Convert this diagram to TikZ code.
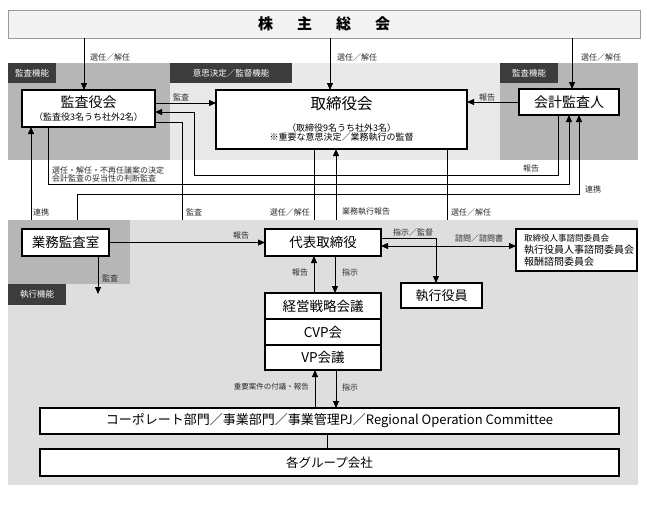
\documentclass[tikz,border=0pt]{standalone}
\usepackage{fontspec}
\setmainfont{Noto Sans CJK JP}
\usetikzlibrary{arrows.meta,calc}
\newcommand\fsz[1]{\fontsize{#1}{#1}\selectfont}
\definecolor{tagc}{HTML}{3C3C3C}
\definecolor{labc}{HTML}{2A2A2A}
\definecolor{lightband}{HTML}{E9E9E9}
\definecolor{darkband}{HTML}{B6B6B6}
\definecolor{lowband}{HTML}{DEDEDE}
\definecolor{shfill}{HTML}{F3F3F3}
\definecolor{shgray}{HTML}{9A9A9A}
\begin{document}
\begin{tikzpicture}[x=1pt,y=-1pt,
  box/.style={draw=black,line width=1.3pt,fill=white,inner sep=0pt,outer sep=0pt},
  region/.style={inner sep=0pt,outer sep=0pt,anchor=north west},
  tag/.style={fill=tagc,text=white,inner sep=0pt,outer sep=0pt,anchor=north west,font=\fsz{8.5}},
  lab/.style={font=\fsz{8},text=labc,inner sep=0pt},
  conn/.style={line width=0.8pt,draw=black},
  arr/.style={conn,-{Triangle[length=7pt,width=6pt]}},
  darr/.style={conn,{Triangle[length=7pt,width=6pt]}-{Triangle[length=7pt,width=6pt]}},
  txt/.style={inner sep=0pt,text=black},
]
\useasboundingbox (0,0) rectangle (647,504);
\fill[white] (0,0) rectangle (647,504);

% regions
\node[region,fill=lightband,minimum width=630pt,minimum height=97pt] (topband) at (8,63) {};
\node[region,fill=darkband,minimum width=162pt,minimum height=97pt] (leftaudit) at (8,63) {};
\node[region,fill=darkband,minimum width=138pt,minimum height=97pt] (rightaudit) at (500,63) {};
\node[region,fill=lowband,minimum width=630pt,minimum height=265pt] (exec) at (8,220) {};
\node[region,fill=darkband,minimum width=122pt,minimum height=64pt] (auditroom) at (8,220) {};
\node[tag,minimum width=48pt,minimum height=20pt] (t1) at (8,63) {監査機能};
\node[tag,minimum width=122pt,minimum height=20pt] (t2) at (170,63) {意思決定／監督機能};
\node[tag,minimum width=58pt,minimum height=20pt] (t3) at (500,63) {監査機能};
\node[tag,minimum width=58pt,minimum height=21pt] (t4) at (8,284) {執行機能};

% boxes
\node[box,draw=shgray,line width=1pt,fill=shfill,minimum width=632pt,minimum height=28pt] (sh) at (324,24)
  {\fsz{15}\bfseries 株\hspace{24pt}主\hspace{24pt}総\hspace{24pt}会};
\node[box,minimum width=133pt,minimum height=37pt] (kansa) at (88.5,108.5) {};
\node[txt,font=\fsz{14}] (kansaT) at (88.5,102) {監査役会};
\node[txt,font=\fsz{9}] (kansaS) at (88.5,117) {（監査役3名うち社外2名）};
\node[box,minimum width=251pt,minimum height=59pt] (tori) at (341.5,119.5) {};
\node[txt,font=\fsz{15.5}] (toriT) at (341.5,104) {取締役会};
\node[txt,font=\fsz{9},align=center] (toriS) at (341.5,132.5)
  {\fsz{9}\baselineskip=11.5pt （取締役9名うち社外3名）\\ ※重要な意思決定／業務執行の監督};
\node[box,minimum width=100pt,minimum height=26pt,font=\fsz{14}] (kaikei) at (569,102) {会計監査人};
\node[box,minimum width=87pt,minimum height=27pt,font=\fsz{13.5}] (gyomu) at (65.5,242.5) {業務監査室};
\node[box,minimum width=116pt,minimum height=27pt,font=\fsz{13.5}] (daihyo) at (323,242.5) {代表取締役};
\node[box,minimum width=116pt,minimum height=26pt,font=\fsz{13.5}] (keiei) at (323,306) {経営戦略会議};
\node[box,minimum width=116pt,minimum height=26pt,font=\fsz{13.5}] (cvp) at (323,332) {CVP会};
\node[box,minimum width=116pt,minimum height=25pt,font=\fsz{13.5}] (vp) at (323,357.5) {VP会議};
\node[box,minimum width=81pt,minimum height=25pt,font=\fsz{13}] (shikko) at (441.5,295.5) {執行役員};
\node[box,minimum width=121pt,minimum height=42pt] (shimon) at (576.5,250) {};
\node[txt,anchor=west,align=left] (shimonT) at (524,250)
  {\fsz{8.5}\baselineskip=11.5pt 取締役人事諮問委員会\\ 執行役員人事諮問委員会\\ 報酬諮問委員会};
\node[box,minimum width=579pt,minimum height=26pt,font=\fsz{13}] (corp) at (329.5,421)
  {コーポレート部門／事業部門／事業管理PJ／Regional Operation Committee};
\node[box,minimum width=579pt,minimum height=27pt,font=\fsz{12.5}] (group) at (329.5,462.5) {各グループ会社};

% connectors from shareholders
\draw[arr] (sh.south -| 84,0) -- (kansa.north -| 84,0);
\draw[arr] (sh.south -| 330,0) -- (tori.north -| 330,0);
\draw[arr] (sh.south -| 572,0) -- (kaikei.north -| 572,0);
\node[lab,anchor=west] (l1) at (90,57) {選任／解任};
\node[lab,anchor=west] (l2) at (337,57) {選任／解任};
\node[lab,anchor=west] (l3) at (581,57) {選任／解任};

% top connections
\draw[arr] (kansa.east |- 0,103) -- (tori.west |- 0,103);
\node[lab,anchor=west] (l4) at (173,97) {監査};
\draw[arr] (kaikei.west) -- (tori.east |- kaikei.west);
\node[lab,anchor=west] (l5) at (479,97) {報告};
\draw[arr] (kaikei.south -| 558,0) |- (194,175) |- (kansa.east |- 0,112);
\node[lab,anchor=west] (l6) at (523,168) {報告};
\draw[conn] (kansa.east |- 0,122) -| (exec.north -| 182,0);
\node[lab,anchor=west] (l7) at (186,212) {監査};
\draw[arr] (kansa.south -| 48,0) |- (569,184) -- (kaikei.south -| 569,0);
\node[lab,anchor=west,align=left] (l8) at (52,174)
  {\fsz{8}\baselineskip=10pt 選任・解任・不再任議案の決定\\ 会計監査の妥当性の判断監査};
\draw[arr] (exec.north -| 31,0) -- (kansa.south -| 31,0);
\node[lab,anchor=west] (l9) at (33,212) {連携};
\draw[arr] (exec.north -| 77,0) |- (579,194) -- (kaikei.south -| 579,0);
\node[lab,anchor=west] (l10) at (585,189) {連携};
\draw[conn] (tori.south -| 314,0) -- (exec.north -| 314,0);
\node[lab,anchor=east] (l11) at (310,212) {選任／解任};
\draw[arr] (exec.north -| 336,0) -- (tori.south -| 336,0);
\node[lab,anchor=west] (l12) at (342,212) {業務執行報告};
\draw[conn] (tori.south -| 447,0) -- (exec.north -| 447,0);
\node[lab,anchor=west] (l13) at (451,212) {選任／解任};

% executive area
\draw[arr] (gyomu.east) -- (daihyo.west);
\node[lab,anchor=west] (l14) at (233,235) {報告};
\coordinate (auditend) at (98,294);
\draw[arr] (gyomu.south -| auditend) -- (auditend);
\node[lab,anchor=west] (l15) at (102,278) {監査};
\draw[arr] (daihyo.east |- 0,238) -| (shikko.north -| 436,0);
\node[lab,anchor=west] (l16) at (393,232) {指示／監督};
\draw[darr] (daihyo.east |- 0,246) -- (shimon.west |- 0,246);
\node[lab,anchor=west] (l17) at (455,238.5) {諮問／諮問書};
\draw[arr] (keiei.north -| 314,0) -- (daihyo.south -| 314,0);
\node[lab,anchor=west] (l18) at (292,272) {報告};
\draw[arr] (daihyo.south -| 335,0) -- (keiei.north -| 335,0);
\node[lab,anchor=west] (l19) at (342,272) {指示};
\draw[arr] (corp.north -| 315,0) -- (vp.south -| 315,0);
\node[lab,anchor=east,font=\fsz{7.5}] (l20) at (309,387) {重要案件の付議・報告};
\draw[arr] (vp.south -| 336,0) -- (corp.north -| 336,0);
\node[lab,anchor=west] (l21) at (342,387) {指示};
\draw[conn] (corp.south -| 327,0) -- (group.north -| 327,0);
\end{tikzpicture}
\end{document}
